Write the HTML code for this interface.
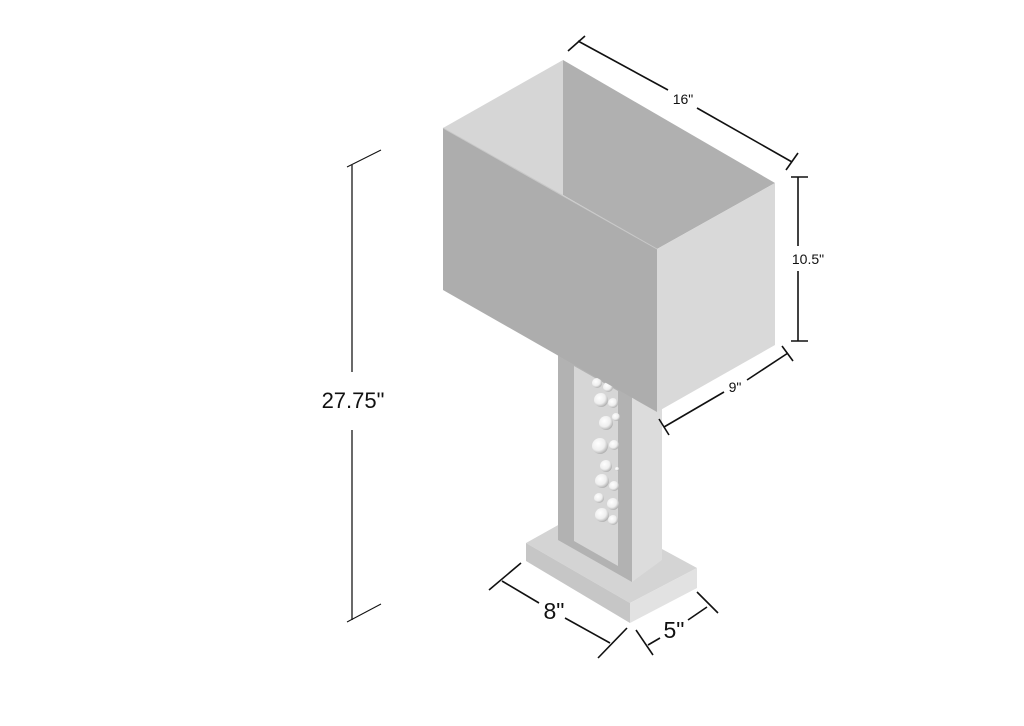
<!DOCTYPE html>
<html><head><meta charset="utf-8"><style>
html,body{margin:0;padding:0;background:#fff;width:1024px;height:726px;overflow:hidden}
svg{display:block}
text{font-family:"Liberation Sans",Arial,sans-serif;fill:#111}
</style></head><body>
<svg width="1024" height="726" viewBox="0 0 1024 726" xmlns="http://www.w3.org/2000/svg">
<defs>
<radialGradient id="b" cx="0.38" cy="0.35" r="0.7">
<stop offset="0" stop-color="#ffffff"/><stop offset="0.6" stop-color="#eeeeee"/><stop offset="1" stop-color="#a8a8a8"/>
</radialGradient>
</defs>
<!-- base -->
<polygon points="526,543 560,524 662,540 662,549 697,568 630,603" fill="#d4d4d4"/>
<polygon points="526,543 630,603 630,623 526,561" fill="#c6c6c6"/>
<polygon points="630,603 697,568 697,588 630,623" fill="#e2e2e2"/>
<!-- stem -->
<polygon points="558,340 632,340 632,582 558,540" fill="#b2b2b2"/>
<polygon points="632,340 662,340 662,560 632,582" fill="#dcdcdc"/>
<polygon points="574,366 618,391 618,566 574,541" fill="#d6d6d6"/>
<g fill="url(#b)">
<circle cx="597" cy="383" r="5"/><circle cx="608" cy="387" r="5"/>
<circle cx="601" cy="400" r="7"/><circle cx="613" cy="403" r="5"/>
<circle cx="616" cy="417" r="4"/><circle cx="606" cy="423" r="7"/>
<circle cx="600" cy="446" r="8"/><circle cx="614" cy="445" r="5"/>
<circle cx="606" cy="466" r="6"/><circle cx="617" cy="469" r="2"/>
<circle cx="602" cy="481" r="7"/><circle cx="614" cy="486" r="5"/>
<circle cx="599" cy="498" r="5"/><circle cx="613" cy="504" r="6"/>
<circle cx="602" cy="515" r="7"/><circle cx="613" cy="520" r="5"/>
</g>
<!-- shade -->
<polygon points="443,128 563,60 563,195 443,260" fill="#d6d6d6"/>
<polygon points="563,60 775,183 657,249 563,195" fill="#b0b0b0"/>
<polygon points="443,128 657,249 657,412 443,290" fill="#adadad"/>
<polygon points="657,249 775,183 775,345 657,412" fill="#d9d9d9"/>
<line x1="443" y1="128" x2="657" y2="249" stroke="#c8c8c8" stroke-width="1"/>
<g stroke="#111" stroke-width="1.6" fill="none">
<line x1="352" y1="165" x2="352" y2="372" stroke="#444"/>
<line x1="352" y1="430" x2="352" y2="620" stroke="#444"/>
<line x1="347" y1="167" x2="381" y2="150" stroke-width="1"/>
<line x1="347" y1="622" x2="381" y2="604" stroke-width="1"/>
<line x1="578" y1="41" x2="668" y2="90"/>
<line x1="697" y1="108" x2="792" y2="162"/>
<line x1="568" y1="51" x2="585" y2="36"/>
<line x1="786" y1="170" x2="798" y2="153"/>
<line x1="798" y1="177" x2="798" y2="246"/>
<line x1="798" y1="271" x2="798" y2="341"/>
<line x1="791" y1="177" x2="808" y2="177"/>
<line x1="791" y1="341" x2="808" y2="341"/>
<line x1="664" y1="427" x2="724" y2="392"/>
<line x1="747" y1="380" x2="788" y2="353"/>
<line x1="659" y1="419" x2="669" y2="435"/>
<line x1="782" y1="346" x2="793" y2="361"/>
<line x1="502" y1="581" x2="539" y2="603"/>
<line x1="565" y1="618" x2="610" y2="643"/>
<line x1="489" y1="590" x2="521" y2="563"/>
<line x1="598" y1="658" x2="627" y2="628"/>
<line x1="648" y1="645" x2="660" y2="638"/>
<line x1="688" y1="620" x2="707" y2="607"/>
<line x1="636" y1="630" x2="653" y2="655"/>
<line x1="697" y1="592" x2="718" y2="613"/>
</g>
<text x="353" y="408" font-size="22" text-anchor="middle">27.75"</text>
<text x="683" y="104" font-size="14" text-anchor="middle">16"</text>
<text x="808" y="264" font-size="14" text-anchor="middle">10.5"</text>
<text x="735" y="392" font-size="14" text-anchor="middle">9"</text>
<text x="554" y="619" font-size="23" text-anchor="middle">8"</text>
<text x="674" y="638" font-size="23" text-anchor="middle">5"</text>
</svg>
</body></html>
